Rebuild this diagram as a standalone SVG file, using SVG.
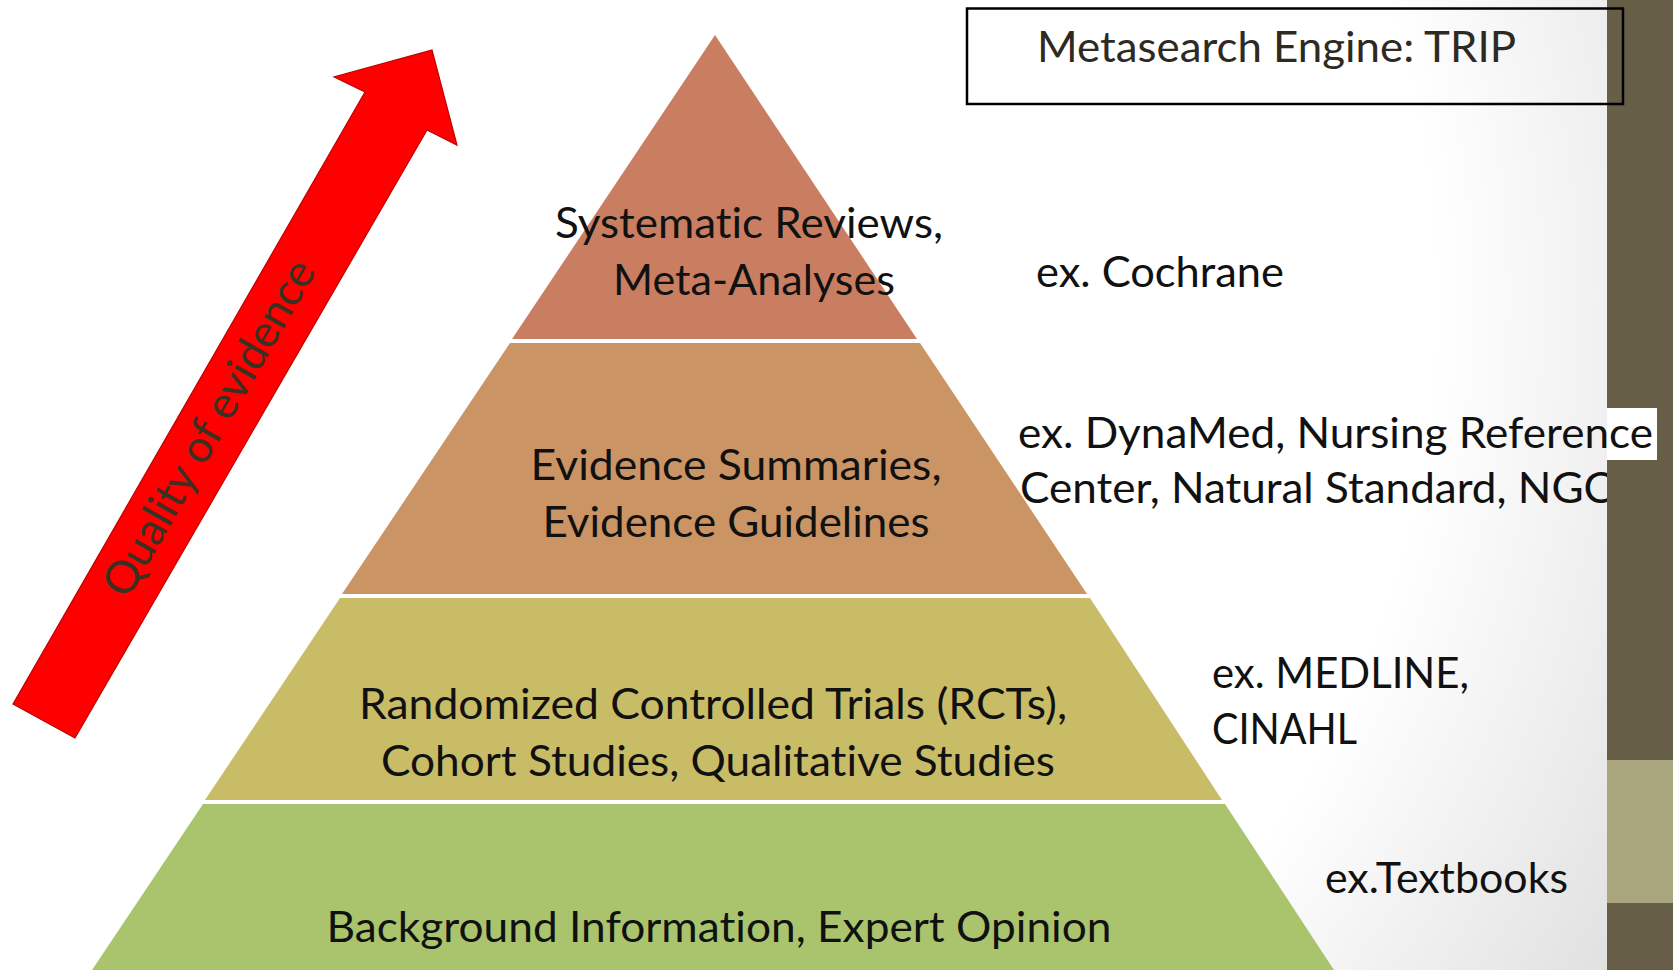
<svg xmlns="http://www.w3.org/2000/svg" width="1673" height="970" viewBox="0 0 1673 970">
  <defs>
    <radialGradient id="bgGrad" gradientUnits="userSpaceOnUse" cx="500" cy="300" r="1300">
      <stop offset="0" stop-color="#FFFFFF"/>
      <stop offset="0.72" stop-color="#FFFFFF"/>
      <stop offset="1" stop-color="#E0E0E0"/>
    </radialGradient>
    <style>
      .lbl { font-family: Lato, "Liberation Sans", sans-serif; font-size: 43px; fill: #111111; font-variant-ligatures: none; }
      .mid { text-anchor: middle; }
    </style>
  </defs>

  <!-- background -->
  <rect x="0" y="0" width="1673" height="970" fill="url(#bgGrad)"/>

  <!-- pyramid -->
  <g id="tier-systematic-reviews">
    <polygon points="715,35 917,339 512,339" fill="#C97E61"/>
    <text class="lbl mid" x="749" y="238" textLength="388" lengthAdjust="spacingAndGlyphs">Systematic Reviews,</text>
    <text class="lbl mid" x="754" y="295" textLength="282" lengthAdjust="spacingAndGlyphs">Meta-Analyses</text>
  </g>
  <g id="tier-evidence-summaries">
    <polygon points="510,343 920,343 1087,594 342,594" fill="#CA9464"/>
    <text class="lbl mid" x="736" y="480" textLength="411" lengthAdjust="spacingAndGlyphs">Evidence Summaries,</text>
    <text class="lbl mid" x="736" y="537" textLength="387" lengthAdjust="spacingAndGlyphs">Evidence Guidelines</text>
  </g>
  <g id="tier-rcts">
    <polygon points="340,598 1090,598 1222,800 205,800" fill="#C9BC67"/>
    <text class="lbl mid" x="713" y="719" textLength="708" lengthAdjust="spacingAndGlyphs">Randomized Controlled Trials (RCTs),</text>
    <text class="lbl mid" x="718" y="776" textLength="674" lengthAdjust="spacingAndGlyphs">Cohort Studies, Qualitative Studies</text>
  </g>
  <g id="tier-background">
    <polygon points="203,804 1225,804 1334,970 92,970" fill="#A9C46D"/>
    <text class="lbl mid" x="719" y="942" textLength="785" lengthAdjust="spacingAndGlyphs">Background Information, Expert Opinion</text>
  </g>

  <!-- example labels -->
  <g id="label-cochrane">
    <text class="lbl" x="1036" y="287" textLength="248" lengthAdjust="spacingAndGlyphs">ex. Cochrane</text>
  </g>
  <g id="label-dynamed-line2">
    <text class="lbl" x="1020" y="503" textLength="593" lengthAdjust="spacingAndGlyphs">Center, Natural Standard, NGC</text>
  </g>
  <g id="label-medline">
    <text class="lbl" x="1212" y="688" textLength="257" lengthAdjust="spacingAndGlyphs">ex. MEDLINE,</text>
    <text class="lbl" x="1212" y="744" textLength="145" lengthAdjust="spacingAndGlyphs">CINAHL</text>
  </g>
  <g id="label-textbooks">
    <text class="lbl" x="1325" y="893" textLength="243" lengthAdjust="spacingAndGlyphs">ex.Textbooks</text>
  </g>

  <!-- right decorative bar -->
  <g id="side-bar">
    <rect x="1607" y="0" width="66" height="970" fill="#675E48"/>
    <rect x="1607" y="760" width="66" height="143" fill="#A9A57D"/>
  </g>

  <g id="label-dynamed">
    <rect x="1607" y="408" width="50" height="52" fill="#FFFFFF"/>
    <text class="lbl" x="1018" y="448" textLength="635" lengthAdjust="spacingAndGlyphs">ex. DynaMed, Nursing Reference</text>
  </g>

  <!-- metasearch box -->
  <g id="metasearch-box">
    <rect x="967" y="8.5" width="656" height="95.5" fill="none" stroke="#000000" stroke-width="2.5"/>
    <text class="lbl" x="1037" y="62" style="fill:#2E2A22" textLength="479" lengthAdjust="spacingAndGlyphs">Metasearch Engine: TRIP</text>
  </g>

  <!-- quality arrow -->
  <g id="quality-arrow">
    <polygon points="432,50 457,145 427,130 75,738 13,704 365,92 334,77" fill="#FF0000" stroke="#C00000" stroke-width="1.2" stroke-linejoin="miter"/>
    <text class="lbl mid" transform="translate(209,428) rotate(-60.1)" x="0" y="15" style="fill:#3A3122;font-size:45px" textLength="380" lengthAdjust="spacingAndGlyphs">Quality of evidence</text>
  </g>
</svg>
